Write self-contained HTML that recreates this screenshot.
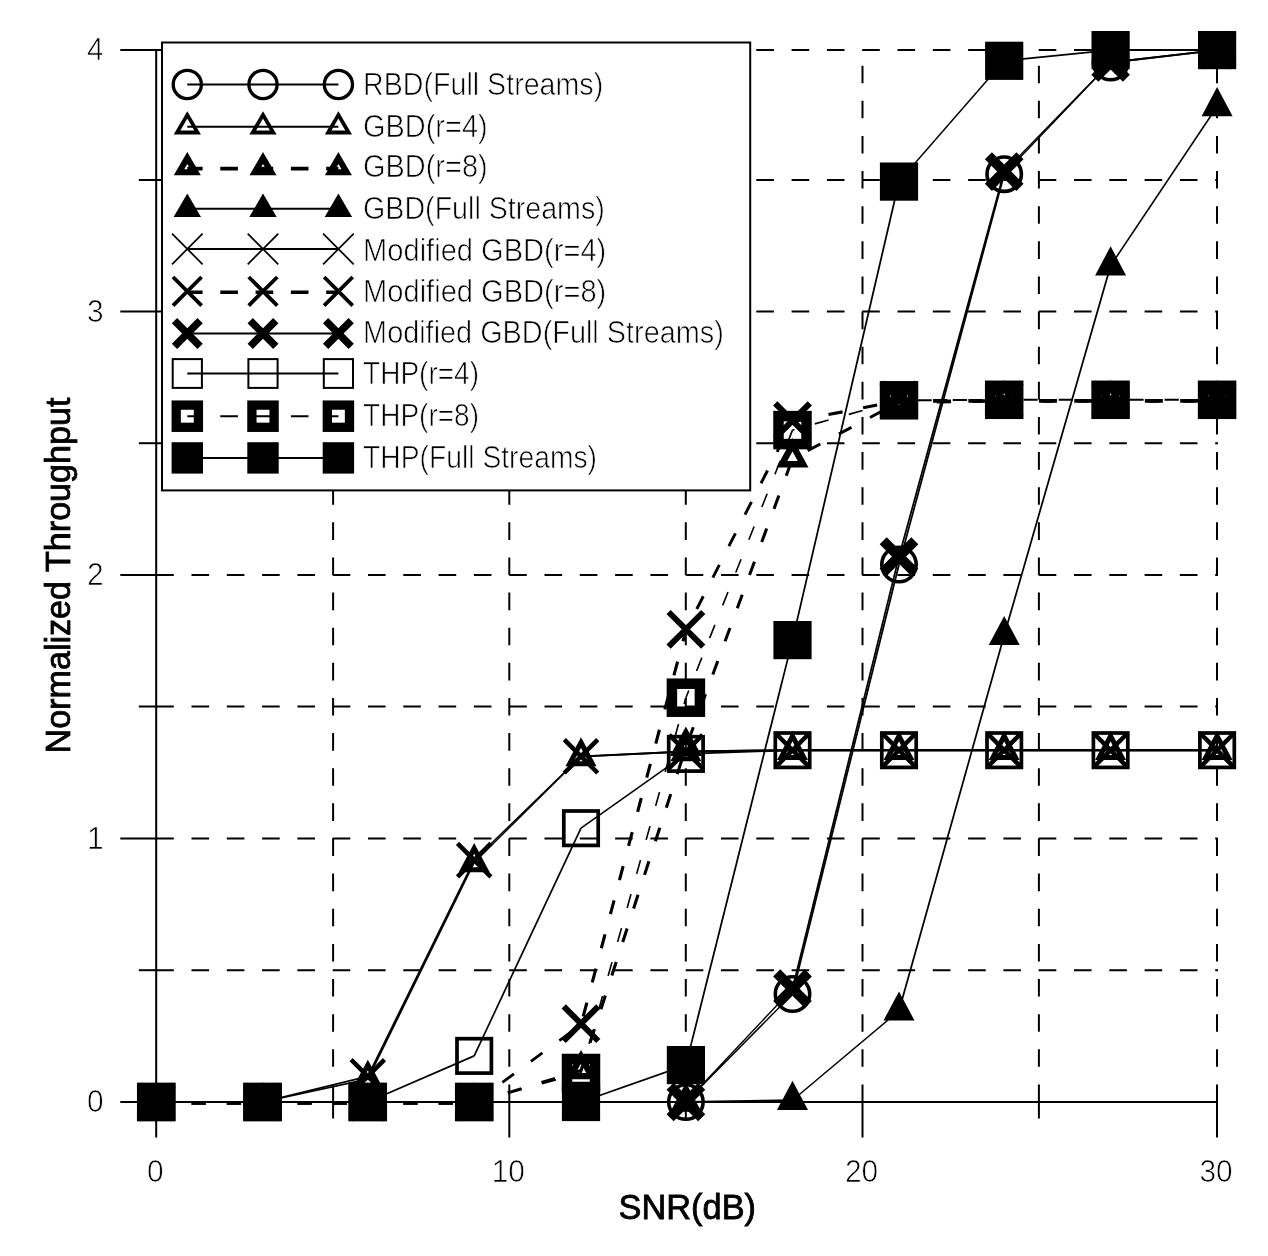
<!DOCTYPE html>
<html lang="en"><head><meta charset="utf-8"><title>Normalized Throughput vs SNR(dB)</title>
<style>html,body{margin:0;padding:0;background:#fff}svg{display:block}text{font-family:"Liberation Sans",Arial,sans-serif;fill:#000}.t{font-size:31.3px;stroke:#fff;stroke-width:0.7px}.ax{font-size:35px;stroke:#000;stroke-width:0.8px}</style></head><body>
<svg width="1268" height="1256" viewBox="0 0 1268 1256">
<rect width="1268" height="1256" fill="#fff"/>
<g stroke="#000" stroke-width="2" fill="none" stroke-dasharray="17.6 17.7">
<path d="M156.2,970.2H1218"/>
<path d="M156.2,838.5H1218"/>
<path d="M156.2,706.5H1218"/>
<path d="M156.2,575H1218"/>
<path d="M156.2,443.2H1218"/>
<path d="M156.2,311.5H1218"/>
<path d="M156.2,180H1218"/>
<path d="M156.2,50H1218"/>
<path d="M333.1,1102.0V50" stroke-dasharray="17.6 17.53"/>
<path d="M509.3,1102.0V50" stroke-dasharray="17.6 17.53"/>
<path d="M685.8,1102.0V50" stroke-dasharray="17.6 17.53"/>
<path d="M862.5,1102.0V50" stroke-dasharray="17.6 17.53"/>
<path d="M1038.9,1102.0V50" stroke-dasharray="17.6 17.53"/>
<path d="M1217.0,1102.0V50" stroke-dasharray="17.6 17.53"/>
</g>
<g stroke="#000" stroke-width="2" fill="none">
<path d="M156.2,49V1103.0"/>
<path d="M155.2,1102.0H1218"/>
<path d="M120.3,1102.0H156.2"/>
<path d="M120.3,838.5H156.2"/>
<path d="M120.3,575H156.2"/>
<path d="M120.3,311.5H156.2"/>
<path d="M120.3,50H156.2"/>
<path d="M138.8,970.2H156.2"/>
<path d="M138.8,706.5H156.2"/>
<path d="M138.8,443.2H156.2"/>
<path d="M138.8,180H156.2"/>
<path d="M156.2,1102.0V1137.5"/>
<path d="M509.3,1102.0V1137.5"/>
<path d="M862.5,1102.0V1137.5"/>
<path d="M1217.0,1102.0V1137.5"/>
<path d="M333.1,1102.0V1118.5"/>
<path d="M685.8,1102.0V1118.5"/>
<path d="M1038.9,1102.0V1118.5"/>
</g>
<g class="t">
<text x="103.6" y="1112.0" text-anchor="end" textLength="16.6" lengthAdjust="spacingAndGlyphs">0</text>
<text x="103.6" y="848.5" text-anchor="end" textLength="16.6" lengthAdjust="spacingAndGlyphs">1</text>
<text x="103.6" y="585.0" text-anchor="end" textLength="16.6" lengthAdjust="spacingAndGlyphs">2</text>
<text x="103.6" y="321.5" text-anchor="end" textLength="16.6" lengthAdjust="spacingAndGlyphs">3</text>
<text x="103.6" y="60.0" text-anchor="end" textLength="16.6" lengthAdjust="spacingAndGlyphs">4</text>
<text x="155.2" y="1182" text-anchor="middle" textLength="16.6" lengthAdjust="spacingAndGlyphs">0</text>
<text x="508.3" y="1182" text-anchor="middle" textLength="33.2" lengthAdjust="spacingAndGlyphs">10</text>
<text x="861.5" y="1182" text-anchor="middle" textLength="33.2" lengthAdjust="spacingAndGlyphs">20</text>
<text x="1216.0" y="1182" text-anchor="middle" textLength="33.2" lengthAdjust="spacingAndGlyphs">30</text>
</g>
<text class="ax" x="687.3" y="1218.9" text-anchor="middle" textLength="137.5" lengthAdjust="spacingAndGlyphs">SNR(dB)</text>
<text class="ax" transform="translate(70.3,753.5) rotate(-90)" textLength="356" lengthAdjust="spacingAndGlyphs">Normalized Throughput</text>
<g>
<path d="M156.2,1102.0L262.5,1102.0" fill="none" stroke="#000" stroke-width="2.00"/>
<path d="M262.5,1102.0L367.8,1102.0" fill="none" stroke="#000" stroke-width="2.00"/>
<path d="M367.8,1102.0L474.2,1102.0" fill="none" stroke="#000" stroke-width="2.00"/>
<path d="M474.2,1102.0L581.0,1102.0" fill="none" stroke="#000" stroke-width="2.00"/>
<path d="M581.0,1102.0L685.9,1102.0" fill="none" stroke="#000" stroke-width="2.00"/>
<path d="M685.9,1102.0L792.5,994.0" fill="none" stroke="#000" stroke-width="1.41"/>
<path d="M792.5,994.0L899.0,564.5" fill="none" stroke="#000" stroke-width="1.76"/>
<path d="M899.0,564.5L1004.2,174.2" fill="none" stroke="#000" stroke-width="1.75"/>
<path d="M1004.2,174.2L1110.6,62.5" fill="none" stroke="#000" stroke-width="1.43"/>
<path d="M1110.6,62.5L1217.1,50.1" fill="none" stroke="#000" stroke-width="1.79"/>
<g transform="translate(156.2,1102.0)"><circle r="17.2" fill="none" stroke="#000" stroke-width="3.6"/></g>
<g transform="translate(262.5,1102.0)"><circle r="17.2" fill="none" stroke="#000" stroke-width="3.6"/></g>
<g transform="translate(367.8,1102.0)"><circle r="17.2" fill="none" stroke="#000" stroke-width="3.6"/></g>
<g transform="translate(474.2,1102.0)"><circle r="17.2" fill="none" stroke="#000" stroke-width="3.6"/></g>
<g transform="translate(581.0,1102.0)"><circle r="17.2" fill="none" stroke="#000" stroke-width="3.6"/></g>
<g transform="translate(685.9,1102.0)"><circle r="17.2" fill="none" stroke="#000" stroke-width="3.6"/></g>
<g transform="translate(792.5,994.0)"><circle r="17.2" fill="none" stroke="#000" stroke-width="3.6"/></g>
<g transform="translate(899.0,564.5)"><circle r="17.2" fill="none" stroke="#000" stroke-width="3.6"/></g>
<g transform="translate(1004.2,174.2)"><circle r="17.2" fill="none" stroke="#000" stroke-width="3.6"/></g>
<g transform="translate(1110.6,62.5)"><circle r="17.2" fill="none" stroke="#000" stroke-width="3.6"/></g>
<g transform="translate(1217.1,50.1)"><circle r="17.2" fill="none" stroke="#000" stroke-width="3.6"/></g>
</g>
<g>
<path d="M156.2,1102.0L262.5,1102.0" fill="none" stroke="#000" stroke-width="2.00"/>
<path d="M262.5,1102.0L367.8,1079.1" fill="none" stroke="#000" stroke-width="1.77"/>
<path d="M367.8,1079.1L474.2,862.5" fill="none" stroke="#000" stroke-width="1.66"/>
<path d="M474.2,862.5L581.0,756.6" fill="none" stroke="#000" stroke-width="1.41"/>
<path d="M581.0,756.6L685.9,751.5" fill="none" stroke="#000" stroke-width="1.80"/>
<path d="M685.9,751.5L792.5,750.2" fill="none" stroke="#000" stroke-width="2.00"/>
<path d="M792.5,750.2L899.0,750.2" fill="none" stroke="#000" stroke-width="2.00"/>
<path d="M899.0,750.2L1004.2,750.2" fill="none" stroke="#000" stroke-width="2.00"/>
<path d="M1004.2,750.2L1110.6,750.2" fill="none" stroke="#000" stroke-width="2.00"/>
<path d="M1110.6,750.2L1217.1,750.2" fill="none" stroke="#000" stroke-width="2.00"/>
<g transform="translate(156.2,1102.0)"><polygon points="0,-14.08 11.34,7.2 -11.34,7.2" fill="none" stroke="#000" stroke-width="5"/></g>
<g transform="translate(262.5,1102.0)"><polygon points="0,-14.08 11.34,7.2 -11.34,7.2" fill="none" stroke="#000" stroke-width="5"/></g>
<g transform="translate(367.8,1079.1)"><polygon points="0,-14.08 11.34,7.2 -11.34,7.2" fill="none" stroke="#000" stroke-width="5"/></g>
<g transform="translate(474.2,862.5)"><polygon points="0,-14.08 11.34,7.2 -11.34,7.2" fill="none" stroke="#000" stroke-width="5"/></g>
<g transform="translate(581.0,756.6)"><polygon points="0,-14.08 11.34,7.2 -11.34,7.2" fill="none" stroke="#000" stroke-width="5"/></g>
<g transform="translate(685.9,751.5)"><polygon points="0,-14.08 11.34,7.2 -11.34,7.2" fill="none" stroke="#000" stroke-width="5"/></g>
<g transform="translate(792.5,750.2)"><polygon points="0,-14.08 11.34,7.2 -11.34,7.2" fill="none" stroke="#000" stroke-width="5"/></g>
<g transform="translate(899.0,750.2)"><polygon points="0,-14.08 11.34,7.2 -11.34,7.2" fill="none" stroke="#000" stroke-width="5"/></g>
<g transform="translate(1004.2,750.2)"><polygon points="0,-14.08 11.34,7.2 -11.34,7.2" fill="none" stroke="#000" stroke-width="5"/></g>
<g transform="translate(1110.6,750.2)"><polygon points="0,-14.08 11.34,7.2 -11.34,7.2" fill="none" stroke="#000" stroke-width="5"/></g>
<g transform="translate(1217.1,750.2)"><polygon points="0,-14.08 11.34,7.2 -11.34,7.2" fill="none" stroke="#000" stroke-width="5"/></g>
</g>
<g>
<path d="M156.2,1103.0L262.5,1103.0" fill="none" stroke="#000" stroke-width="3.70" stroke-dasharray="14.3 21" stroke-dashoffset="0.00"/>
<path d="M262.5,1103.0L367.8,1103.0" fill="none" stroke="#000" stroke-width="3.70" stroke-dasharray="14.3 21" stroke-dashoffset="0.40"/>
<path d="M367.8,1103.0L474.2,1103.0" fill="none" stroke="#000" stroke-width="3.70" stroke-dasharray="14.3 21" stroke-dashoffset="35.10"/>
<path d="M474.2,1103.0L581.0,1070.6" fill="none" stroke="#000" stroke-width="3.10" stroke-dasharray="14.3 21" stroke-dashoffset="0.30"/>
<path d="M581.0,1070.6L685.9,747.3" fill="none" stroke="#000" stroke-width="3.08" stroke-dasharray="14.3 21" stroke-dashoffset="6.01"/>
<path d="M685.9,747.3L792.5,458.7" fill="none" stroke="#000" stroke-width="3.05" stroke-dasharray="14.3 21" stroke-dashoffset="28.22"/>
<path d="M792.5,458.7L899.0,402.1" fill="none" stroke="#000" stroke-width="2.92" stroke-dasharray="14.3 21" stroke-dashoffset="18.11"/>
<path d="M899.0,402.1L1004.2,400.8" fill="none" stroke="#000" stroke-width="3.70" stroke-dasharray="14.3 21" stroke-dashoffset="32.84"/>
<path d="M1004.2,400.8L1110.6,400.8" fill="none" stroke="#000" stroke-width="3.70" stroke-dasharray="14.3 21" stroke-dashoffset="32.15"/>
<path d="M1110.6,400.8L1217.1,400.8" fill="none" stroke="#000" stroke-width="3.70" stroke-dasharray="14.3 21" stroke-dashoffset="32.65"/>
<g transform="translate(156.2,1102.0)"><polygon points="0,-13 10.6,6.5 -10.6,6.5" fill="none" stroke="#000" stroke-width="6.4"/></g>
<g transform="translate(262.5,1102.0)"><polygon points="0,-13 10.6,6.5 -10.6,6.5" fill="none" stroke="#000" stroke-width="6.4"/></g>
<g transform="translate(367.8,1102.0)"><polygon points="0,-13 10.6,6.5 -10.6,6.5" fill="none" stroke="#000" stroke-width="6.4"/></g>
<g transform="translate(474.2,1102.0)"><polygon points="0,-13 10.6,6.5 -10.6,6.5" fill="none" stroke="#000" stroke-width="6.4"/></g>
<g transform="translate(581.0,1069.6)"><polygon points="0,-13 10.6,6.5 -10.6,6.5" fill="none" stroke="#000" stroke-width="6.4"/></g>
<g transform="translate(685.9,746.3)"><polygon points="0,-13 10.6,6.5 -10.6,6.5" fill="none" stroke="#000" stroke-width="6.4"/></g>
<g transform="translate(792.5,457.7)"><polygon points="0,-13 10.6,6.5 -10.6,6.5" fill="none" stroke="#000" stroke-width="6.4"/></g>
<g transform="translate(899.0,401.1)"><polygon points="0,-13 10.6,6.5 -10.6,6.5" fill="none" stroke="#000" stroke-width="6.4"/></g>
<g transform="translate(1004.2,399.8)"><polygon points="0,-13 10.6,6.5 -10.6,6.5" fill="none" stroke="#000" stroke-width="6.4"/></g>
<g transform="translate(1110.6,399.8)"><polygon points="0,-13 10.6,6.5 -10.6,6.5" fill="none" stroke="#000" stroke-width="6.4"/></g>
<g transform="translate(1217.1,399.8)"><polygon points="0,-13 10.6,6.5 -10.6,6.5" fill="none" stroke="#000" stroke-width="6.4"/></g>
</g>
<g>
<path d="M156.2,1102.0L262.5,1102.0" fill="none" stroke="#000" stroke-width="2.00"/>
<path d="M262.5,1102.0L367.8,1102.0" fill="none" stroke="#000" stroke-width="2.00"/>
<path d="M367.8,1102.0L474.2,1102.0" fill="none" stroke="#000" stroke-width="2.00"/>
<path d="M474.2,1102.0L581.0,1102.0" fill="none" stroke="#000" stroke-width="2.00"/>
<path d="M581.0,1102.0L685.9,1102.0" fill="none" stroke="#000" stroke-width="2.00"/>
<path d="M685.9,1102.0L792.5,1100.2" fill="none" stroke="#000" stroke-width="2.00"/>
<path d="M792.5,1100.2L899.0,1010.8" fill="none" stroke="#000" stroke-width="1.48"/>
<path d="M899.0,1010.8L1004.2,635.3" fill="none" stroke="#000" stroke-width="1.75"/>
<path d="M1004.2,635.3L1110.6,265.7" fill="none" stroke="#000" stroke-width="1.75"/>
<path d="M1110.6,265.7L1217.1,106.5" fill="none" stroke="#000" stroke-width="1.57"/>
<g transform="translate(156.2,1102.0)"><polygon points="0,-19.4 15.5,9.7 -15.5,9.7" fill="#000"/></g>
<g transform="translate(262.5,1102.0)"><polygon points="0,-19.4 15.5,9.7 -15.5,9.7" fill="#000"/></g>
<g transform="translate(367.8,1102.0)"><polygon points="0,-19.4 15.5,9.7 -15.5,9.7" fill="#000"/></g>
<g transform="translate(474.2,1102.0)"><polygon points="0,-19.4 15.5,9.7 -15.5,9.7" fill="#000"/></g>
<g transform="translate(581.0,1102.0)"><polygon points="0,-19.4 15.5,9.7 -15.5,9.7" fill="#000"/></g>
<g transform="translate(685.9,1102.0)"><polygon points="0,-19.4 15.5,9.7 -15.5,9.7" fill="#000"/></g>
<g transform="translate(792.5,1100.2)"><polygon points="0,-19.4 15.5,9.7 -15.5,9.7" fill="#000"/></g>
<g transform="translate(899.0,1010.8)"><polygon points="0,-19.4 15.5,9.7 -15.5,9.7" fill="#000"/></g>
<g transform="translate(1004.2,635.3)"><polygon points="0,-19.4 15.5,9.7 -15.5,9.7" fill="#000"/></g>
<g transform="translate(1110.6,265.7)"><polygon points="0,-19.4 15.5,9.7 -15.5,9.7" fill="#000"/></g>
<g transform="translate(1217.1,106.5)"><polygon points="0,-19.4 15.5,9.7 -15.5,9.7" fill="#000"/></g>
</g>
<g>
<path d="M156.2,1102.0L262.5,1102.0" fill="none" stroke="#000" stroke-width="2.00"/>
<path d="M262.5,1102.0L367.8,1076.4" fill="none" stroke="#000" stroke-width="1.76"/>
<path d="M367.8,1076.4L474.2,860.1" fill="none" stroke="#000" stroke-width="1.66"/>
<path d="M474.2,860.1L581.0,756.3" fill="none" stroke="#000" stroke-width="1.42"/>
<path d="M581.0,756.3L685.9,751.5" fill="none" stroke="#000" stroke-width="1.80"/>
<path d="M685.9,751.5L792.5,750.2" fill="none" stroke="#000" stroke-width="2.00"/>
<path d="M792.5,750.2L899.0,750.2" fill="none" stroke="#000" stroke-width="2.00"/>
<path d="M899.0,750.2L1004.2,750.2" fill="none" stroke="#000" stroke-width="2.00"/>
<path d="M1004.2,750.2L1110.6,750.2" fill="none" stroke="#000" stroke-width="2.00"/>
<path d="M1110.6,750.2L1217.1,750.2" fill="none" stroke="#000" stroke-width="2.00"/>
<g transform="translate(156.2,1102.0)"><path d="M-16.7,-16.7L16.7,16.7M-16.7,16.7L16.7,-16.7" stroke="#000" stroke-width="4.5" fill="none"/></g>
<g transform="translate(262.5,1102.0)"><path d="M-16.7,-16.7L16.7,16.7M-16.7,16.7L16.7,-16.7" stroke="#000" stroke-width="4.5" fill="none"/></g>
<g transform="translate(367.8,1076.4)"><path d="M-16.7,-16.7L16.7,16.7M-16.7,16.7L16.7,-16.7" stroke="#000" stroke-width="4.5" fill="none"/></g>
<g transform="translate(474.2,860.1)"><path d="M-16.7,-16.7L16.7,16.7M-16.7,16.7L16.7,-16.7" stroke="#000" stroke-width="4.5" fill="none"/></g>
<g transform="translate(581.0,756.3)"><path d="M-16.7,-16.7L16.7,16.7M-16.7,16.7L16.7,-16.7" stroke="#000" stroke-width="4.5" fill="none"/></g>
<g transform="translate(685.9,751.5)"><path d="M-16.7,-16.7L16.7,16.7M-16.7,16.7L16.7,-16.7" stroke="#000" stroke-width="4.5" fill="none"/></g>
<g transform="translate(792.5,750.2)"><path d="M-16.7,-16.7L16.7,16.7M-16.7,16.7L16.7,-16.7" stroke="#000" stroke-width="4.5" fill="none"/></g>
<g transform="translate(899.0,750.2)"><path d="M-16.7,-16.7L16.7,16.7M-16.7,16.7L16.7,-16.7" stroke="#000" stroke-width="4.5" fill="none"/></g>
<g transform="translate(1004.2,750.2)"><path d="M-16.7,-16.7L16.7,16.7M-16.7,16.7L16.7,-16.7" stroke="#000" stroke-width="4.5" fill="none"/></g>
<g transform="translate(1110.6,750.2)"><path d="M-16.7,-16.7L16.7,16.7M-16.7,16.7L16.7,-16.7" stroke="#000" stroke-width="4.5" fill="none"/></g>
<g transform="translate(1217.1,750.2)"><path d="M-16.7,-16.7L16.7,16.7M-16.7,16.7L16.7,-16.7" stroke="#000" stroke-width="4.5" fill="none"/></g>
</g>
<g>
<path d="M156.2,1103.0L262.5,1103.0" fill="none" stroke="#000" stroke-width="3.70" stroke-dasharray="14.3 21" stroke-dashoffset="0.00"/>
<path d="M262.5,1103.0L367.8,1103.0" fill="none" stroke="#000" stroke-width="3.70" stroke-dasharray="14.3 21" stroke-dashoffset="0.40"/>
<path d="M367.8,1103.0L474.2,1103.0" fill="none" stroke="#000" stroke-width="3.70" stroke-dasharray="14.3 21" stroke-dashoffset="35.10"/>
<path d="M474.2,1103.0L581.0,1024.7" fill="none" stroke="#000" stroke-width="2.74" stroke-dasharray="14.3 21" stroke-dashoffset="0.30"/>
<path d="M581.0,1024.7L685.9,630.3" fill="none" stroke="#000" stroke-width="3.12" stroke-dasharray="14.3 21" stroke-dashoffset="26.80"/>
<path d="M685.9,630.3L792.5,421.6" fill="none" stroke="#000" stroke-width="2.94" stroke-dasharray="14.3 21" stroke-dashoffset="11.37"/>
<path d="M792.5,421.6L899.0,400.8" fill="none" stroke="#000" stroke-width="3.16" stroke-dasharray="14.3 21" stroke-dashoffset="33.91"/>
<path d="M899.0,400.8L1004.2,400.8" fill="none" stroke="#000" stroke-width="3.70" stroke-dasharray="14.3 21" stroke-dashoffset="1.23"/>
<path d="M1004.2,400.8L1110.6,400.8" fill="none" stroke="#000" stroke-width="3.70" stroke-dasharray="14.3 21" stroke-dashoffset="0.53"/>
<path d="M1110.6,400.8L1217.1,400.8" fill="none" stroke="#000" stroke-width="3.70" stroke-dasharray="14.3 21" stroke-dashoffset="1.03"/>
<g transform="translate(156.2,1102.0)"><path d="M-17.3,-17.3L17.3,17.3M-17.3,17.3L17.3,-17.3" stroke="#000" stroke-width="6" fill="none"/></g>
<g transform="translate(262.5,1102.0)"><path d="M-17.3,-17.3L17.3,17.3M-17.3,17.3L17.3,-17.3" stroke="#000" stroke-width="6" fill="none"/></g>
<g transform="translate(367.8,1102.0)"><path d="M-17.3,-17.3L17.3,17.3M-17.3,17.3L17.3,-17.3" stroke="#000" stroke-width="6" fill="none"/></g>
<g transform="translate(474.2,1102.0)"><path d="M-17.3,-17.3L17.3,17.3M-17.3,17.3L17.3,-17.3" stroke="#000" stroke-width="6" fill="none"/></g>
<g transform="translate(581.0,1023.7)"><path d="M-17.3,-17.3L17.3,17.3M-17.3,17.3L17.3,-17.3" stroke="#000" stroke-width="6" fill="none"/></g>
<g transform="translate(685.9,629.3)"><path d="M-17.3,-17.3L17.3,17.3M-17.3,17.3L17.3,-17.3" stroke="#000" stroke-width="6" fill="none"/></g>
<g transform="translate(792.5,420.6)"><path d="M-17.3,-17.3L17.3,17.3M-17.3,17.3L17.3,-17.3" stroke="#000" stroke-width="6" fill="none"/></g>
<g transform="translate(899.0,399.8)"><path d="M-17.3,-17.3L17.3,17.3M-17.3,17.3L17.3,-17.3" stroke="#000" stroke-width="6" fill="none"/></g>
<g transform="translate(1004.2,399.8)"><path d="M-17.3,-17.3L17.3,17.3M-17.3,17.3L17.3,-17.3" stroke="#000" stroke-width="6" fill="none"/></g>
<g transform="translate(1110.6,399.8)"><path d="M-17.3,-17.3L17.3,17.3M-17.3,17.3L17.3,-17.3" stroke="#000" stroke-width="6" fill="none"/></g>
<g transform="translate(1217.1,399.8)"><path d="M-17.3,-17.3L17.3,17.3M-17.3,17.3L17.3,-17.3" stroke="#000" stroke-width="6" fill="none"/></g>
</g>
<g>
<path d="M156.2,1102.0L262.5,1102.0" fill="none" stroke="#000" stroke-width="2.00"/>
<path d="M262.5,1102.0L367.8,1102.0" fill="none" stroke="#000" stroke-width="2.00"/>
<path d="M367.8,1102.0L474.2,1102.0" fill="none" stroke="#000" stroke-width="2.00"/>
<path d="M474.2,1102.0L581.0,1102.0" fill="none" stroke="#000" stroke-width="2.00"/>
<path d="M581.0,1102.0L685.9,1102.0" fill="none" stroke="#000" stroke-width="2.00"/>
<path d="M685.9,1102.0L792.5,988.7" fill="none" stroke="#000" stroke-width="1.43"/>
<path d="M792.5,988.7L899.0,556.6" fill="none" stroke="#000" stroke-width="1.76"/>
<path d="M899.0,556.6L1004.2,171.6" fill="none" stroke="#000" stroke-width="1.75"/>
<path d="M1004.2,171.6L1110.6,62.5" fill="none" stroke="#000" stroke-width="1.42"/>
<path d="M1110.6,62.5L1217.1,50.1" fill="none" stroke="#000" stroke-width="1.79"/>
<g transform="translate(156.2,1102.0)"><path d="M-15.8,-15.8L15.8,15.8M-15.8,15.8L15.8,-15.8" stroke="#000" stroke-width="10" fill="none"/></g>
<g transform="translate(262.5,1102.0)"><path d="M-15.8,-15.8L15.8,15.8M-15.8,15.8L15.8,-15.8" stroke="#000" stroke-width="10" fill="none"/></g>
<g transform="translate(367.8,1102.0)"><path d="M-15.8,-15.8L15.8,15.8M-15.8,15.8L15.8,-15.8" stroke="#000" stroke-width="10" fill="none"/></g>
<g transform="translate(474.2,1102.0)"><path d="M-15.8,-15.8L15.8,15.8M-15.8,15.8L15.8,-15.8" stroke="#000" stroke-width="10" fill="none"/></g>
<g transform="translate(581.0,1102.0)"><path d="M-15.8,-15.8L15.8,15.8M-15.8,15.8L15.8,-15.8" stroke="#000" stroke-width="10" fill="none"/></g>
<g transform="translate(685.9,1102.0)"><path d="M-15.8,-15.8L15.8,15.8M-15.8,15.8L15.8,-15.8" stroke="#000" stroke-width="10" fill="none"/></g>
<g transform="translate(792.5,988.7)"><path d="M-15.8,-15.8L15.8,15.8M-15.8,15.8L15.8,-15.8" stroke="#000" stroke-width="10" fill="none"/></g>
<g transform="translate(899.0,556.6)"><path d="M-15.8,-15.8L15.8,15.8M-15.8,15.8L15.8,-15.8" stroke="#000" stroke-width="10" fill="none"/></g>
<g transform="translate(1004.2,171.6)"><path d="M-15.8,-15.8L15.8,15.8M-15.8,15.8L15.8,-15.8" stroke="#000" stroke-width="10" fill="none"/></g>
<g transform="translate(1110.6,62.5)"><path d="M-15.8,-15.8L15.8,15.8M-15.8,15.8L15.8,-15.8" stroke="#000" stroke-width="10" fill="none"/></g>
<g transform="translate(1217.1,50.1)"><path d="M-15.8,-15.8L15.8,15.8M-15.8,15.8L15.8,-15.8" stroke="#000" stroke-width="10" fill="none"/></g>
</g>
<g>
<path d="M156.2,1102.0L262.5,1102.0" fill="none" stroke="#000" stroke-width="2.00"/>
<path d="M262.5,1102.0L367.8,1102.0" fill="none" stroke="#000" stroke-width="2.00"/>
<path d="M367.8,1102.0L474.2,1055.9" fill="none" stroke="#000" stroke-width="1.69"/>
<path d="M474.2,1055.9L581.0,828.2" fill="none" stroke="#000" stroke-width="1.67"/>
<path d="M581.0,828.2L685.9,753.9" fill="none" stroke="#000" stroke-width="1.55"/>
<path d="M685.9,753.9L792.5,750.2" fill="none" stroke="#000" stroke-width="1.80"/>
<path d="M792.5,750.2L899.0,750.2" fill="none" stroke="#000" stroke-width="2.00"/>
<path d="M899.0,750.2L1004.2,750.2" fill="none" stroke="#000" stroke-width="2.00"/>
<path d="M1004.2,750.2L1110.6,750.2" fill="none" stroke="#000" stroke-width="2.00"/>
<path d="M1110.6,750.2L1217.1,750.2" fill="none" stroke="#000" stroke-width="2.00"/>
<g transform="translate(156.2,1102.0)"><rect x="-17.2" y="-17.2" width="34.4" height="34.4" fill="none" stroke="#000" stroke-width="3.7"/></g>
<g transform="translate(262.5,1102.0)"><rect x="-17.2" y="-17.2" width="34.4" height="34.4" fill="none" stroke="#000" stroke-width="3.7"/></g>
<g transform="translate(367.8,1102.0)"><rect x="-17.2" y="-17.2" width="34.4" height="34.4" fill="none" stroke="#000" stroke-width="3.7"/></g>
<g transform="translate(474.2,1055.9)"><rect x="-17.2" y="-17.2" width="34.4" height="34.4" fill="none" stroke="#000" stroke-width="3.7"/></g>
<g transform="translate(581.0,828.2)"><rect x="-17.2" y="-17.2" width="34.4" height="34.4" fill="none" stroke="#000" stroke-width="3.7"/></g>
<g transform="translate(685.9,753.9)"><rect x="-17.2" y="-17.2" width="34.4" height="34.4" fill="none" stroke="#000" stroke-width="3.7"/></g>
<g transform="translate(792.5,750.2)"><rect x="-17.2" y="-17.2" width="34.4" height="34.4" fill="none" stroke="#000" stroke-width="3.7"/></g>
<g transform="translate(899.0,750.2)"><rect x="-17.2" y="-17.2" width="34.4" height="34.4" fill="none" stroke="#000" stroke-width="3.7"/></g>
<g transform="translate(1004.2,750.2)"><rect x="-17.2" y="-17.2" width="34.4" height="34.4" fill="none" stroke="#000" stroke-width="3.7"/></g>
<g transform="translate(1110.6,750.2)"><rect x="-17.2" y="-17.2" width="34.4" height="34.4" fill="none" stroke="#000" stroke-width="3.7"/></g>
<g transform="translate(1217.1,750.2)"><rect x="-17.2" y="-17.2" width="34.4" height="34.4" fill="none" stroke="#000" stroke-width="3.7"/></g>
</g>
<g>
<path d="M156.2,1102.0L262.5,1102.0" fill="none" stroke="#000" stroke-width="2.00" stroke-dasharray="14.3 21" stroke-dashoffset="0.00"/>
<path d="M262.5,1102.0L367.8,1102.0" fill="none" stroke="#000" stroke-width="2.00" stroke-dasharray="14.3 21" stroke-dashoffset="0.40"/>
<path d="M367.8,1102.0L474.2,1102.0" fill="none" stroke="#000" stroke-width="2.00" stroke-dasharray="14.3 21" stroke-dashoffset="35.10"/>
<path d="M474.2,1102.0L581.0,1073.0" fill="none" stroke="#000" stroke-width="1.66" stroke-dasharray="14.3 21" stroke-dashoffset="0.30"/>
<path d="M581.0,1073.0L685.9,697.7" fill="none" stroke="#000" stroke-width="1.65" stroke-dasharray="14.3 21" stroke-dashoffset="5.06"/>
<path d="M685.9,697.7L792.5,430.1" fill="none" stroke="#000" stroke-width="1.61" stroke-dasharray="14.3 21" stroke-dashoffset="6.50"/>
<path d="M792.5,430.1L899.0,400.3" fill="none" stroke="#000" stroke-width="1.65" stroke-dasharray="14.3 21" stroke-dashoffset="12.14"/>
<path d="M899.0,400.3L1004.2,399.8" fill="none" stroke="#000" stroke-width="2.00" stroke-dasharray="14.3 21" stroke-dashoffset="16.82"/>
<path d="M1004.2,399.8L1110.6,399.8" fill="none" stroke="#000" stroke-width="2.00" stroke-dasharray="14.3 21" stroke-dashoffset="16.12"/>
<path d="M1110.6,399.8L1217.1,399.8" fill="none" stroke="#000" stroke-width="2.00" stroke-dasharray="14.3 21" stroke-dashoffset="16.62"/>
<g transform="translate(156.2,1102.0)"><rect x="-14" y="-14" width="28" height="28" fill="none" stroke="#000" stroke-width="10.5"/></g>
<g transform="translate(262.5,1102.0)"><rect x="-14" y="-14" width="28" height="28" fill="none" stroke="#000" stroke-width="10.5"/></g>
<g transform="translate(367.8,1102.0)"><rect x="-14" y="-14" width="28" height="28" fill="none" stroke="#000" stroke-width="10.5"/></g>
<g transform="translate(474.2,1102.0)"><rect x="-14" y="-14" width="28" height="28" fill="none" stroke="#000" stroke-width="10.5"/></g>
<g transform="translate(581.0,1073.0)"><rect x="-14" y="-14" width="28" height="28" fill="none" stroke="#000" stroke-width="10.5"/></g>
<g transform="translate(685.9,697.7)"><rect x="-14" y="-14" width="28" height="28" fill="none" stroke="#000" stroke-width="10.5"/></g>
<g transform="translate(792.5,430.1)"><rect x="-14" y="-14" width="28" height="28" fill="none" stroke="#000" stroke-width="10.5"/></g>
<g transform="translate(899.0,400.3)"><rect x="-14" y="-14" width="28" height="28" fill="none" stroke="#000" stroke-width="10.5"/></g>
<g transform="translate(1004.2,399.8)"><rect x="-14" y="-14" width="28" height="28" fill="none" stroke="#000" stroke-width="10.5"/></g>
<g transform="translate(1110.6,399.8)"><rect x="-14" y="-14" width="28" height="28" fill="none" stroke="#000" stroke-width="10.5"/></g>
<g transform="translate(1217.1,399.8)"><rect x="-14" y="-14" width="28" height="28" fill="none" stroke="#000" stroke-width="10.5"/></g>
</g>
<g>
<path d="M156.2,1102.0L262.5,1102.0" fill="none" stroke="#000" stroke-width="2.00"/>
<path d="M262.5,1102.0L367.8,1102.0" fill="none" stroke="#000" stroke-width="2.00"/>
<path d="M367.8,1102.0L474.2,1102.0" fill="none" stroke="#000" stroke-width="2.00"/>
<path d="M474.2,1102.0L581.0,1102.0" fill="none" stroke="#000" stroke-width="2.00"/>
<path d="M581.0,1102.0L685.9,1065.1" fill="none" stroke="#000" stroke-width="1.72"/>
<path d="M685.9,1065.1L792.5,640.1" fill="none" stroke="#000" stroke-width="1.76"/>
<path d="M792.5,640.1L899.0,181.6" fill="none" stroke="#000" stroke-width="1.76"/>
<path d="M899.0,181.6L1004.2,60.8" fill="none" stroke="#000" stroke-width="1.47"/>
<path d="M1004.2,60.8L1110.6,50.1" fill="none" stroke="#000" stroke-width="1.79"/>
<path d="M1110.6,50.1L1217.1,50.1" fill="none" stroke="#000" stroke-width="2.00"/>
<g transform="translate(156.2,1102.0)"><rect x="-19.1" y="-19.1" width="38.2" height="38.2" fill="#000"/></g>
<g transform="translate(262.5,1102.0)"><rect x="-19.1" y="-19.1" width="38.2" height="38.2" fill="#000"/></g>
<g transform="translate(367.8,1102.0)"><rect x="-19.1" y="-19.1" width="38.2" height="38.2" fill="#000"/></g>
<g transform="translate(474.2,1102.0)"><rect x="-19.1" y="-19.1" width="38.2" height="38.2" fill="#000"/></g>
<g transform="translate(581.0,1102.0)"><rect x="-19.1" y="-19.1" width="38.2" height="38.2" fill="#000"/></g>
<g transform="translate(685.9,1065.1)"><rect x="-19.1" y="-19.1" width="38.2" height="38.2" fill="#000"/></g>
<g transform="translate(792.5,640.1)"><rect x="-19.1" y="-19.1" width="38.2" height="38.2" fill="#000"/></g>
<g transform="translate(899.0,181.6)"><rect x="-19.1" y="-19.1" width="38.2" height="38.2" fill="#000"/></g>
<g transform="translate(1004.2,60.8)"><rect x="-19.1" y="-19.1" width="38.2" height="38.2" fill="#000"/></g>
<g transform="translate(1110.6,50.1)"><rect x="-19.1" y="-19.1" width="38.2" height="38.2" fill="#000"/></g>
<g transform="translate(1217.1,50.1)"><rect x="-19.1" y="-19.1" width="38.2" height="38.2" fill="#000"/></g>
</g>
<rect x="162" y="42.5" width="588.2" height="447.9" fill="#fff" stroke="#000" stroke-width="2"/>
<g><path d="M187.3,84.5H338.4" fill="none" stroke="#000" stroke-width="2"/>
<g transform="translate(187.3,84.5)"><circle r="14.1" fill="none" stroke="#000" stroke-width="3.3"/></g>
<g transform="translate(263,84.5)"><circle r="14.1" fill="none" stroke="#000" stroke-width="3.3"/></g>
<g transform="translate(338.4,84.5)"><circle r="14.1" fill="none" stroke="#000" stroke-width="3.3"/></g>
<text class="t" x="363.1" y="94.5" textLength="240.1" lengthAdjust="spacingAndGlyphs">RBD(Full Streams)</text></g>
<g><path d="M187.3,126.7H338.4" fill="none" stroke="#000" stroke-width="2"/>
<g transform="translate(187.3,126.7)"><polygon points="0,-11.8 10.3,5.8 -10.3,5.8" fill="none" stroke="#000" stroke-width="3.8"/></g>
<g transform="translate(263,126.7)"><polygon points="0,-11.8 10.3,5.8 -10.3,5.8" fill="none" stroke="#000" stroke-width="3.8"/></g>
<g transform="translate(338.4,126.7)"><polygon points="0,-11.8 10.3,5.8 -10.3,5.8" fill="none" stroke="#000" stroke-width="3.8"/></g>
<text class="t" x="363.1" y="136.5" textLength="124.5" lengthAdjust="spacingAndGlyphs">GBD(r=4)</text></g>
<g><path d="M187.3,168.6H338.4" fill="none" stroke="#000" stroke-width="3.6" stroke-dasharray="17.6 17.7" stroke-dashoffset="2.3"/>
<g transform="translate(187.3,167.6)"><polygon points="0,-9.6 8.3,4.6 -8.3,4.6" fill="none" stroke="#000" stroke-width="6"/></g>
<g transform="translate(263,167.6)"><polygon points="0,-9.6 8.3,4.6 -8.3,4.6" fill="none" stroke="#000" stroke-width="6"/></g>
<g transform="translate(338.4,167.6)"><polygon points="0,-9.6 8.3,4.6 -8.3,4.6" fill="none" stroke="#000" stroke-width="6"/></g>
<text class="t" x="363.1" y="177" textLength="124.5" lengthAdjust="spacingAndGlyphs">GBD(r=8)</text></g>
<g><path d="M187.3,208.8H338.4" fill="none" stroke="#000" stroke-width="2"/>
<g transform="translate(187.3,208.8)"><polygon points="0,-15.2 13.7,8.2 -13.7,8.2" fill="#000"/></g>
<g transform="translate(263,208.8)"><polygon points="0,-15.2 13.7,8.2 -13.7,8.2" fill="#000"/></g>
<g transform="translate(338.4,208.8)"><polygon points="0,-15.2 13.7,8.2 -13.7,8.2" fill="#000"/></g>
<text class="t" x="363.1" y="219" textLength="241.70000000000002" lengthAdjust="spacingAndGlyphs">GBD(Full Streams)</text></g>
<g><path d="M187.3,249H338.4" fill="none" stroke="#000" stroke-width="2"/>
<g transform="translate(187.3,249)"><path d="M-15.3,-15.3L15.3,15.3M-15.3,15.3L15.3,-15.3" stroke="#000" stroke-width="1.7" fill="none"/></g>
<g transform="translate(263,249)"><path d="M-15.3,-15.3L15.3,15.3M-15.3,15.3L15.3,-15.3" stroke="#000" stroke-width="1.7" fill="none"/></g>
<g transform="translate(338.4,249)"><path d="M-15.3,-15.3L15.3,15.3M-15.3,15.3L15.3,-15.3" stroke="#000" stroke-width="1.7" fill="none"/></g>
<text class="t" x="363.1" y="261" textLength="243.20000000000002" lengthAdjust="spacingAndGlyphs">Modified GBD(r=4)</text></g>
<g><path d="M187.3,292.3H338.4" fill="none" stroke="#000" stroke-width="3.6" stroke-dasharray="17.6 17.7" stroke-dashoffset="2.3"/>
<g transform="translate(187.3,291.3)"><path d="M-14.3,-14.3L14.3,14.3M-14.3,14.3L14.3,-14.3" stroke="#000" stroke-width="3.8" fill="none"/></g>
<g transform="translate(263,291.3)"><path d="M-14.3,-14.3L14.3,14.3M-14.3,14.3L14.3,-14.3" stroke="#000" stroke-width="3.8" fill="none"/></g>
<g transform="translate(338.4,291.3)"><path d="M-14.3,-14.3L14.3,14.3M-14.3,14.3L14.3,-14.3" stroke="#000" stroke-width="3.8" fill="none"/></g>
<text class="t" x="363.1" y="301.5" textLength="243.20000000000002" lengthAdjust="spacingAndGlyphs">Modified GBD(r=8)</text></g>
<g><path d="M187.3,333.5H338.4" fill="none" stroke="#000" stroke-width="2"/>
<g transform="translate(187.3,333.5)"><path d="M-12.8,-12.8L12.8,12.8M-12.8,12.8L12.8,-12.8" stroke="#000" stroke-width="7.5" fill="none"/></g>
<g transform="translate(263,333.5)"><path d="M-12.8,-12.8L12.8,12.8M-12.8,12.8L12.8,-12.8" stroke="#000" stroke-width="7.5" fill="none"/></g>
<g transform="translate(338.4,333.5)"><path d="M-12.8,-12.8L12.8,12.8M-12.8,12.8L12.8,-12.8" stroke="#000" stroke-width="7.5" fill="none"/></g>
<text class="t" x="363.1" y="343.2" textLength="360.7" lengthAdjust="spacingAndGlyphs">Modified GBD(Full Streams)</text></g>
<g><path d="M187.3,373.5H338.4" fill="none" stroke="#000" stroke-width="2"/>
<g transform="translate(187.3,373.5)"><rect x="-14.6" y="-14.4" width="29.2" height="28.8" fill="none" stroke="#000" stroke-width="2"/></g>
<g transform="translate(263,373.5)"><rect x="-14.6" y="-14.4" width="29.2" height="28.8" fill="none" stroke="#000" stroke-width="2"/></g>
<g transform="translate(338.4,373.5)"><rect x="-14.6" y="-14.4" width="29.2" height="28.8" fill="none" stroke="#000" stroke-width="2"/></g>
<text class="t" x="363.1" y="383.8" textLength="115.9" lengthAdjust="spacingAndGlyphs">THP(r=4)</text></g>
<g><path d="M187.3,416.2H338.4" fill="none" stroke="#000" stroke-width="2" stroke-dasharray="17.6 17.7" stroke-dashoffset="2.3"/>
<g transform="translate(187.3,416.2)"><rect x="-11.1" y="-11.1" width="22.2" height="22.2" fill="none" stroke="#000" stroke-width="9.3"/></g>
<g transform="translate(263,416.2)"><rect x="-11.1" y="-11.1" width="22.2" height="22.2" fill="none" stroke="#000" stroke-width="9.3"/></g>
<g transform="translate(338.4,416.2)"><rect x="-11.1" y="-11.1" width="22.2" height="22.2" fill="none" stroke="#000" stroke-width="9.3"/></g>
<text class="t" x="363.1" y="425.5" textLength="115.9" lengthAdjust="spacingAndGlyphs">THP(r=8)</text></g>
<g><path d="M187.3,457.9H338.4" fill="none" stroke="#000" stroke-width="2"/>
<g transform="translate(187.3,457.9)"><rect x="-15.7" y="-15.7" width="31.4" height="31.4" fill="#000"/></g>
<g transform="translate(263,457.9)"><rect x="-15.7" y="-15.7" width="31.4" height="31.4" fill="#000"/></g>
<g transform="translate(338.4,457.9)"><rect x="-15.7" y="-15.7" width="31.4" height="31.4" fill="#000"/></g>
<text class="t" x="363.1" y="467.5" textLength="233.9" lengthAdjust="spacingAndGlyphs">THP(Full Streams)</text></g>
</svg></body></html>
